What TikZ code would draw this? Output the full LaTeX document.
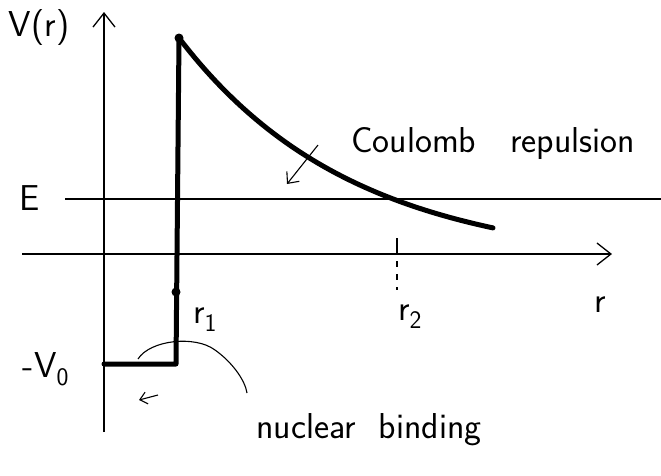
\documentclass[tikz,border=0pt]{standalone}
\usepackage{fontspec}
\usepackage{tikz}
\usetikzlibrary{arrows.meta}

\begin{document}
\begin{tikzpicture}[x=1pt, y=-1pt, font=\sffamily\fontsize{36}{40}\selectfont]
\useasboundingbox (0,0) rectangle (661,475);
\draw[line width=1.3pt, -{Straight Barb[length=14pt, width=22pt]}] (104,432) -- (104,12);
\draw[line width=1.3pt, -{Straight Barb[length=14pt, width=22pt]}] (22,254) -- (612,254);
\draw[line width=1.1pt] (65,199) -- (661,199);
\draw[line width=1.1pt] (397,238) -- (397,253);
\draw[line width=1.1pt, dash pattern=on 6pt off 7pt] (397,261) -- (397,290);
\draw[line width=5pt, line join=round, line cap=round] (104,364) -- (176,364) -- (179,38);
\draw[line width=5pt, line cap=round] plot[domain=179:493, samples=60] (\x, {265-227*exp(-0.00577*(\x-179))});
\fill (179,38) circle (4.5);
\fill (176,292) circle (4.5);
\draw[line width=1.1pt, -{Straight Barb[length=9pt, width=16pt]}] (318,145) -- (287,184);
\draw[line width=1.1pt] (138,359) .. controls (150,340) and (195,335) .. (215,350) .. controls (232,362) and (245,380) .. (247,393);
\draw[line width=1.1pt, -{Straight Barb[length=7pt, width=12pt]}] (158,395) -- (139,400);
\node[anchor=base] (vr) at (39,36) {V(r)};
\node[anchor=base] (en) at (30,210) {E};
\node[anchor=base] (vzero) at (46,377) {-V\textsubscript{0}};
\node[anchor=base] (rr) at (600,312) {r};
\node[anchor=base] (rone) at (205,323) {r\textsubscript{1}};
\node[anchor=base] (rtwo) at (410,320) {r\textsubscript{2}};
\node[anchor=base] (coul) at (493,152) {Coulomb \ \ repulsion};
\node[anchor=base] (nucl) at (369,438) {nuclear \ binding};
\end{tikzpicture}
\end{document}
